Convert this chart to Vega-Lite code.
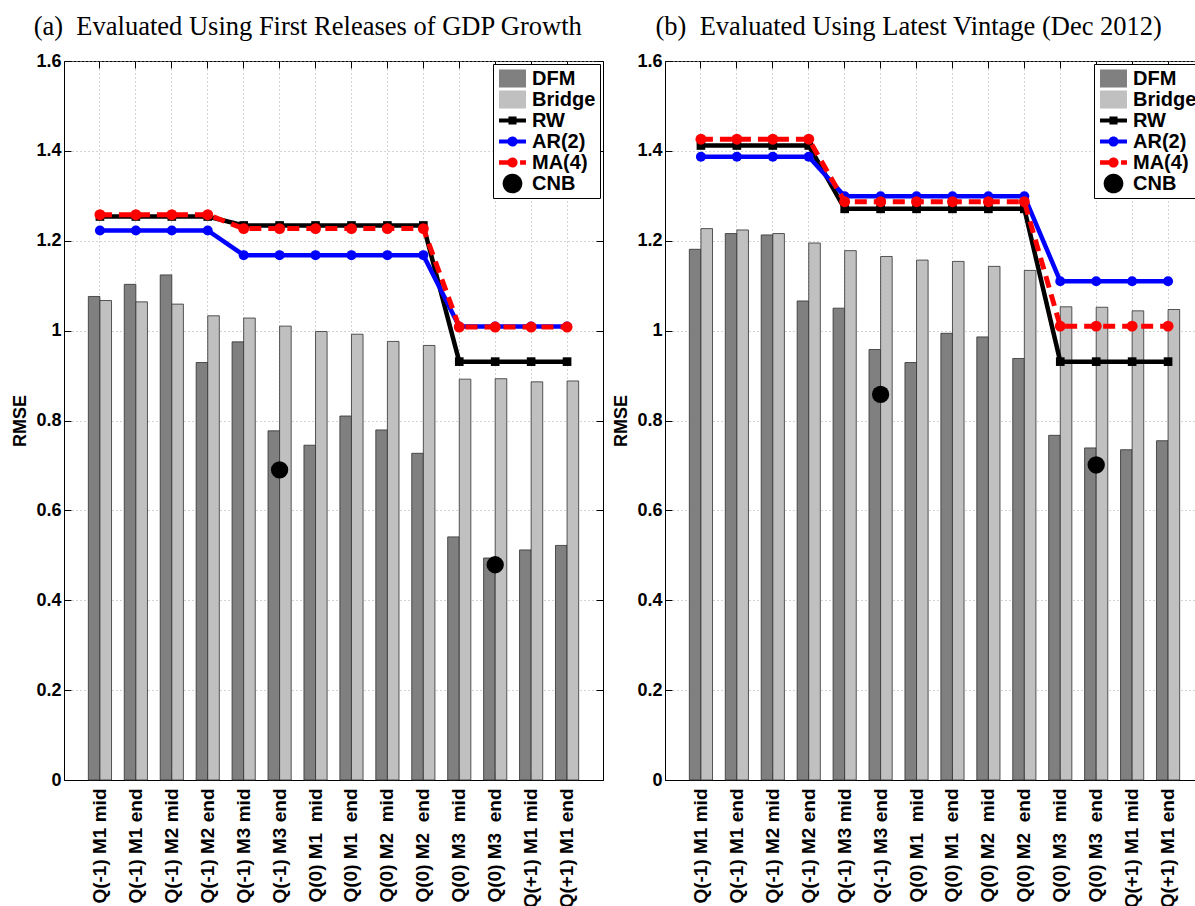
{
  "$schema": "https://vega.github.io/schema/vega-lite/v6.json",
  "padding": {"left": 11, "top": 13, "right": 0, "bottom": 0},
  "background": "white",
  "config": {
    "view": {"stroke": "black", "strokeWidth": 1},
    "font": "Liberation Sans",
    "title": {"font": "Liberation Serif", "fontSize": 26.5, "fontWeight": "normal", "color": "black", "anchor": "middle", "frame": "bounds", "offset": 12},
    "axis": {"labelFont": "Liberation Sans", "labelFontWeight": "bold", "labelFontSize": 18, "labelColor": "black", "titleFont": "Liberation Sans", "titleFontWeight": "bold", "titleFontSize": 18, "titleColor": "black", "domainColor": "black", "tickColor": "black", "gridColor": "#a8a8a8", "gridDash": [1, 3], "gridWidth": 1},
    "legend": {"labelFont": "Liberation Sans", "labelFontWeight": "bold", "labelFontSize": 20, "labelColor": "black", "strokeColor": "black", "fillColor": "white", "padding": 4, "rowPadding": 0, "labelOffset": 9, "symbolOffset": 5, "offset": 3, "symbolSize": 430, "symbolOpacity": 1, "symbolStrokeWidth": 0}
  },
  "datasets": {
    "a": [
      {"cat": "Q(-1) M1 mid", "series": "DFM", "value": 1.076},
      {"cat": "Q(-1) M1 mid", "series": "Bridge", "value": 1.067},
      {"cat": "Q(-1) M1 mid", "series": "RW", "value": 1.254},
      {"cat": "Q(-1) M1 mid", "series": "AR(2)", "value": 1.223},
      {"cat": "Q(-1) M1 mid", "series": "MA(4)", "value": 1.258},
      {"cat": "Q(-1) M1 end", "series": "DFM", "value": 1.103},
      {"cat": "Q(-1) M1 end", "series": "Bridge", "value": 1.064},
      {"cat": "Q(-1) M1 end", "series": "RW", "value": 1.254},
      {"cat": "Q(-1) M1 end", "series": "AR(2)", "value": 1.223},
      {"cat": "Q(-1) M1 end", "series": "MA(4)", "value": 1.258},
      {"cat": "Q(-1) M2 mid", "series": "DFM", "value": 1.124},
      {"cat": "Q(-1) M2 mid", "series": "Bridge", "value": 1.059},
      {"cat": "Q(-1) M2 mid", "series": "RW", "value": 1.254},
      {"cat": "Q(-1) M2 mid", "series": "AR(2)", "value": 1.223},
      {"cat": "Q(-1) M2 mid", "series": "MA(4)", "value": 1.258},
      {"cat": "Q(-1) M2 end", "series": "DFM", "value": 0.929},
      {"cat": "Q(-1) M2 end", "series": "Bridge", "value": 1.033},
      {"cat": "Q(-1) M2 end", "series": "RW", "value": 1.254},
      {"cat": "Q(-1) M2 end", "series": "AR(2)", "value": 1.223},
      {"cat": "Q(-1) M2 end", "series": "MA(4)", "value": 1.258},
      {"cat": "Q(-1) M3 mid", "series": "DFM", "value": 0.975},
      {"cat": "Q(-1) M3 mid", "series": "Bridge", "value": 1.028},
      {"cat": "Q(-1) M3 mid", "series": "RW", "value": 1.234},
      {"cat": "Q(-1) M3 mid", "series": "AR(2)", "value": 1.168},
      {"cat": "Q(-1) M3 mid", "series": "MA(4)", "value": 1.227},
      {"cat": "Q(-1) M3 end", "series": "DFM", "value": 0.777},
      {"cat": "Q(-1) M3 end", "series": "Bridge", "value": 1.010},
      {"cat": "Q(-1) M3 end", "series": "RW", "value": 1.234},
      {"cat": "Q(-1) M3 end", "series": "AR(2)", "value": 1.168},
      {"cat": "Q(-1) M3 end", "series": "MA(4)", "value": 1.227},
      {"cat": "Q(-1) M3 end", "series": "CNB", "value": 0.690},
      {"cat": "Q(0) M1\u00a0 mid", "series": "DFM", "value": 0.745},
      {"cat": "Q(0) M1\u00a0 mid", "series": "Bridge", "value": 0.998},
      {"cat": "Q(0) M1\u00a0 mid", "series": "RW", "value": 1.234},
      {"cat": "Q(0) M1\u00a0 mid", "series": "AR(2)", "value": 1.168},
      {"cat": "Q(0) M1\u00a0 mid", "series": "MA(4)", "value": 1.227},
      {"cat": "Q(0) M1\u00a0 end", "series": "DFM", "value": 0.810},
      {"cat": "Q(0) M1\u00a0 end", "series": "Bridge", "value": 0.992},
      {"cat": "Q(0) M1\u00a0 end", "series": "RW", "value": 1.234},
      {"cat": "Q(0) M1\u00a0 end", "series": "AR(2)", "value": 1.168},
      {"cat": "Q(0) M1\u00a0 end", "series": "MA(4)", "value": 1.227},
      {"cat": "Q(0) M2\u00a0 mid", "series": "DFM", "value": 0.779},
      {"cat": "Q(0) M2\u00a0 mid", "series": "Bridge", "value": 0.976},
      {"cat": "Q(0) M2\u00a0 mid", "series": "RW", "value": 1.234},
      {"cat": "Q(0) M2\u00a0 mid", "series": "AR(2)", "value": 1.168},
      {"cat": "Q(0) M2\u00a0 mid", "series": "MA(4)", "value": 1.227},
      {"cat": "Q(0) M2\u00a0 end", "series": "DFM", "value": 0.727},
      {"cat": "Q(0) M2\u00a0 end", "series": "Bridge", "value": 0.967},
      {"cat": "Q(0) M2\u00a0 end", "series": "RW", "value": 1.234},
      {"cat": "Q(0) M2\u00a0 end", "series": "AR(2)", "value": 1.168},
      {"cat": "Q(0) M2\u00a0 end", "series": "MA(4)", "value": 1.227},
      {"cat": "Q(0) M3\u00a0 mid", "series": "DFM", "value": 0.541},
      {"cat": "Q(0) M3\u00a0 mid", "series": "Bridge", "value": 0.892},
      {"cat": "Q(0) M3\u00a0 mid", "series": "RW", "value": 0.931},
      {"cat": "Q(0) M3\u00a0 mid", "series": "AR(2)", "value": 1.009},
      {"cat": "Q(0) M3\u00a0 mid", "series": "MA(4)", "value": 1.008},
      {"cat": "Q(0) M3\u00a0 end", "series": "DFM", "value": 0.494},
      {"cat": "Q(0) M3\u00a0 end", "series": "Bridge", "value": 0.893},
      {"cat": "Q(0) M3\u00a0 end", "series": "RW", "value": 0.931},
      {"cat": "Q(0) M3\u00a0 end", "series": "AR(2)", "value": 1.009},
      {"cat": "Q(0) M3\u00a0 end", "series": "MA(4)", "value": 1.008},
      {"cat": "Q(0) M3\u00a0 end", "series": "CNB", "value": 0.479},
      {"cat": "Q(+1) M1 mid", "series": "DFM", "value": 0.512},
      {"cat": "Q(+1) M1 mid", "series": "Bridge", "value": 0.886},
      {"cat": "Q(+1) M1 mid", "series": "RW", "value": 0.931},
      {"cat": "Q(+1) M1 mid", "series": "AR(2)", "value": 1.009},
      {"cat": "Q(+1) M1 mid", "series": "MA(4)", "value": 1.008},
      {"cat": "Q(+1) M1 end", "series": "DFM", "value": 0.522},
      {"cat": "Q(+1) M1 end", "series": "Bridge", "value": 0.888},
      {"cat": "Q(+1) M1 end", "series": "RW", "value": 0.931},
      {"cat": "Q(+1) M1 end", "series": "AR(2)", "value": 1.009},
      {"cat": "Q(+1) M1 end", "series": "MA(4)", "value": 1.008}
    ],
    "b": [
      {"cat": "Q(-1) M1 mid", "series": "DFM", "value": 1.181},
      {"cat": "Q(-1) M1 mid", "series": "Bridge", "value": 1.227},
      {"cat": "Q(-1) M1 mid", "series": "RW", "value": 1.412},
      {"cat": "Q(-1) M1 mid", "series": "AR(2)", "value": 1.387},
      {"cat": "Q(-1) M1 mid", "series": "MA(4)", "value": 1.426},
      {"cat": "Q(-1) M1 end", "series": "DFM", "value": 1.216},
      {"cat": "Q(-1) M1 end", "series": "Bridge", "value": 1.224},
      {"cat": "Q(-1) M1 end", "series": "RW", "value": 1.412},
      {"cat": "Q(-1) M1 end", "series": "AR(2)", "value": 1.387},
      {"cat": "Q(-1) M1 end", "series": "MA(4)", "value": 1.426},
      {"cat": "Q(-1) M2 mid", "series": "DFM", "value": 1.213},
      {"cat": "Q(-1) M2 mid", "series": "Bridge", "value": 1.216},
      {"cat": "Q(-1) M2 mid", "series": "RW", "value": 1.412},
      {"cat": "Q(-1) M2 mid", "series": "AR(2)", "value": 1.387},
      {"cat": "Q(-1) M2 mid", "series": "MA(4)", "value": 1.426},
      {"cat": "Q(-1) M2 end", "series": "DFM", "value": 1.066},
      {"cat": "Q(-1) M2 end", "series": "Bridge", "value": 1.195},
      {"cat": "Q(-1) M2 end", "series": "RW", "value": 1.412},
      {"cat": "Q(-1) M2 end", "series": "AR(2)", "value": 1.387},
      {"cat": "Q(-1) M2 end", "series": "MA(4)", "value": 1.426},
      {"cat": "Q(-1) M3 mid", "series": "DFM", "value": 1.050},
      {"cat": "Q(-1) M3 mid", "series": "Bridge", "value": 1.178},
      {"cat": "Q(-1) M3 mid", "series": "RW", "value": 1.271},
      {"cat": "Q(-1) M3 mid", "series": "AR(2)", "value": 1.299},
      {"cat": "Q(-1) M3 mid", "series": "MA(4)", "value": 1.287},
      {"cat": "Q(-1) M3 end", "series": "DFM", "value": 0.958},
      {"cat": "Q(-1) M3 end", "series": "Bridge", "value": 1.165},
      {"cat": "Q(-1) M3 end", "series": "RW", "value": 1.271},
      {"cat": "Q(-1) M3 end", "series": "AR(2)", "value": 1.299},
      {"cat": "Q(-1) M3 end", "series": "MA(4)", "value": 1.287},
      {"cat": "Q(-1) M3 end", "series": "CNB", "value": 0.858},
      {"cat": "Q(0) M1\u00a0 mid", "series": "DFM", "value": 0.929},
      {"cat": "Q(0) M1\u00a0 mid", "series": "Bridge", "value": 1.157},
      {"cat": "Q(0) M1\u00a0 mid", "series": "RW", "value": 1.271},
      {"cat": "Q(0) M1\u00a0 mid", "series": "AR(2)", "value": 1.299},
      {"cat": "Q(0) M1\u00a0 mid", "series": "MA(4)", "value": 1.287},
      {"cat": "Q(0) M1\u00a0 end", "series": "DFM", "value": 0.994},
      {"cat": "Q(0) M1\u00a0 end", "series": "Bridge", "value": 1.154},
      {"cat": "Q(0) M1\u00a0 end", "series": "RW", "value": 1.271},
      {"cat": "Q(0) M1\u00a0 end", "series": "AR(2)", "value": 1.299},
      {"cat": "Q(0) M1\u00a0 end", "series": "MA(4)", "value": 1.287},
      {"cat": "Q(0) M2\u00a0 mid", "series": "DFM", "value": 0.986},
      {"cat": "Q(0) M2\u00a0 mid", "series": "Bridge", "value": 1.143},
      {"cat": "Q(0) M2\u00a0 mid", "series": "RW", "value": 1.271},
      {"cat": "Q(0) M2\u00a0 mid", "series": "AR(2)", "value": 1.299},
      {"cat": "Q(0) M2\u00a0 mid", "series": "MA(4)", "value": 1.287},
      {"cat": "Q(0) M2\u00a0 end", "series": "DFM", "value": 0.938},
      {"cat": "Q(0) M2\u00a0 end", "series": "Bridge", "value": 1.134},
      {"cat": "Q(0) M2\u00a0 end", "series": "RW", "value": 1.271},
      {"cat": "Q(0) M2\u00a0 end", "series": "AR(2)", "value": 1.299},
      {"cat": "Q(0) M2\u00a0 end", "series": "MA(4)", "value": 1.287},
      {"cat": "Q(0) M3\u00a0 mid", "series": "DFM", "value": 0.767},
      {"cat": "Q(0) M3\u00a0 mid", "series": "Bridge", "value": 1.053},
      {"cat": "Q(0) M3\u00a0 mid", "series": "RW", "value": 0.931},
      {"cat": "Q(0) M3\u00a0 mid", "series": "AR(2)", "value": 1.110},
      {"cat": "Q(0) M3\u00a0 mid", "series": "MA(4)", "value": 1.010},
      {"cat": "Q(0) M3\u00a0 end", "series": "DFM", "value": 0.739},
      {"cat": "Q(0) M3\u00a0 end", "series": "Bridge", "value": 1.052},
      {"cat": "Q(0) M3\u00a0 end", "series": "RW", "value": 0.931},
      {"cat": "Q(0) M3\u00a0 end", "series": "AR(2)", "value": 1.110},
      {"cat": "Q(0) M3\u00a0 end", "series": "MA(4)", "value": 1.010},
      {"cat": "Q(0) M3\u00a0 end", "series": "CNB", "value": 0.701},
      {"cat": "Q(+1) M1 mid", "series": "DFM", "value": 0.735},
      {"cat": "Q(+1) M1 mid", "series": "Bridge", "value": 1.044},
      {"cat": "Q(+1) M1 mid", "series": "RW", "value": 0.931},
      {"cat": "Q(+1) M1 mid", "series": "AR(2)", "value": 1.110},
      {"cat": "Q(+1) M1 mid", "series": "MA(4)", "value": 1.010},
      {"cat": "Q(+1) M1 end", "series": "DFM", "value": 0.755},
      {"cat": "Q(+1) M1 end", "series": "Bridge", "value": 1.047},
      {"cat": "Q(+1) M1 end", "series": "RW", "value": 0.931},
      {"cat": "Q(+1) M1 end", "series": "AR(2)", "value": 1.110},
      {"cat": "Q(+1) M1 end", "series": "MA(4)", "value": 1.010}
    ]
  },
  "spacing": 8,
  "resolve": {"scale": {"color": "independent", "shape": "independent"}, "legend": {"color": "independent", "shape": "independent"}},
  "hconcat": [
    {
      "width": 539, "height": 719,
      "title": "(a)\u00a0 Evaluated Using First Releases of GDP Growth",
      "data": {"name": "a"},
      "resolve": {"axis": {"x": "independent", "y": "independent"}},
      "layer": [
        {
          "transform": [{"filter": {"field": "series", "oneOf": ["DFM", "Bridge"]}}],
          "mark": {"type": "bar", "stroke": "#303030", "strokeWidth": 0.8},
          "encoding": {
            "x": {"field": "cat", "type": "nominal", "sort": null, "scale": {"paddingInner": 0, "paddingOuter": 0.5},
              "axis": {"title": null, "labelAngle": 270, "labelPadding": 15, "labelFontSize": 19, "tickSize": -7, "bandPosition": 0.5, "tickExtra": false, "grid": true, "domain": true}},
            "xOffset": {"field": "series", "type": "nominal", "scale": {"domain": ["DFM", "Bridge"], "paddingInner": 0, "paddingOuter": 0.55}},
            "y": {"field": "value", "type": "quantitative", "scale": {"domain": [0, 1.6], "nice": false, "zero": true},
              "axis": {"title": "RMSE", "values": [0, 0.2, 0.4, 0.6, 0.8, 1, 1.2, 1.4, 1.6], "format": ".1~f", "tickSize": -7, "labelPadding": 10, "titlePadding": 6, "grid": true}},
            "color": {"field": "series", "type": "nominal",
              "scale": {"domain": ["DFM", "Bridge", "RW", "AR(2)", "MA(4)", "CNB"], "range": ["#808080", "#c0c0c0", "#000000", "#0000ff", "#ff0000", "#000000"]},
              "legend": {"title": null, "orient": "top-right", "symbolOpacity": 1, "symbolStrokeWidth": 0}}
          }
        },
        {
          "mark": {"type": "point", "filled": true, "opacity": 0},
          "encoding": {
            "x": {"field": "cat", "type": "nominal", "sort": null, "axis": null},
            "y": {"field": "value", "type": "quantitative", "axis": null},
            "color": {"field": "series", "type": "nominal"},
            "shape": {"field": "series", "type": "nominal",
              "scale": {"domain": ["DFM", "Bridge", "RW", "AR(2)", "MA(4)", "CNB"],
                "range": ["M-1.3,-0.87H1.3V0.87H-1.3Z", "M-1.3,-0.87H1.3V0.87H-1.3Z", "M-1.3,-0.2H1.3V0.2H-1.3Z M-0.39,-0.39H0.39V0.39H-0.39Z", "M-1.3,-0.2H1.3V0.2H-1.3Z M-0.49,0A0.49,0.49 0 1,1 0.49,0A0.49,0.49 0 1,1 -0.49,0Z", "M-1.3,-0.21H0.43V0.21H-1.3Z M0.73,-0.21H1.3V0.21H0.73Z M-0.49,0A0.49,0.49 0 1,1 0.49,0A0.49,0.49 0 1,1 -0.49,0Z", "M-0.95,0A0.95,0.95 0 1,1 0.95,0A0.95,0.95 0 1,1 -0.95,0Z"]},
              "legend": {"title": null, "orient": "top-right", "symbolOpacity": 1, "symbolStrokeWidth": 0}}
          }
        },
        {
          "transform": [{"filter": {"field": "series", "equal": "RW"}}],
          "mark": {"type": "line", "strokeWidth": 4.5},
          "encoding": {
            "x": {"field": "cat", "type": "nominal", "sort": null, "axis": {"orient": "top", "labels": false, "title": null, "tickSize": -7, "bandPosition": 0.5, "tickExtra": false, "grid": false, "domain": false}},
            "y": {"field": "value", "type": "quantitative", "axis": {"orient": "right", "labels": false, "title": null, "values": [0, 0.2, 0.4, 0.6, 0.8, 1, 1.2, 1.4, 1.6], "tickSize": -7, "grid": false, "domain": false}},
            "color": {"field": "series", "type": "nominal", "legend": null}
          }
        },
        {
          "transform": [{"filter": {"field": "series", "equal": "RW"}}],
          "mark": {"type": "point", "filled": true, "shape": "square", "size": 75, "opacity": 1},
          "encoding": {
            "x": {"field": "cat", "type": "nominal", "sort": null, "axis": null},
            "y": {"field": "value", "type": "quantitative", "axis": null},
            "color": {"field": "series", "type": "nominal", "legend": null}
          }
        },
        {
          "transform": [{"filter": {"field": "series", "equal": "AR(2)"}}],
          "mark": {"type": "line", "strokeWidth": 4.5},
          "encoding": {
            "x": {"field": "cat", "type": "nominal", "sort": null, "axis": null},
            "y": {"field": "value", "type": "quantitative", "axis": null},
            "color": {"field": "series", "type": "nominal", "legend": null}
          }
        },
        {
          "transform": [{"filter": {"field": "series", "equal": "AR(2)"}}],
          "mark": {"type": "point", "filled": true, "shape": "circle", "size": 100, "opacity": 1},
          "encoding": {
            "x": {"field": "cat", "type": "nominal", "sort": null, "axis": null},
            "y": {"field": "value", "type": "quantitative", "axis": null},
            "color": {"field": "series", "type": "nominal", "legend": null}
          }
        },
        {
          "transform": [{"filter": {"field": "series", "equal": "MA(4)"}}],
          "mark": {"type": "line", "strokeWidth": 5, "strokeDash": [12, 7]},
          "encoding": {
            "x": {"field": "cat", "type": "nominal", "sort": null, "axis": null},
            "y": {"field": "value", "type": "quantitative", "axis": null},
            "color": {"field": "series", "type": "nominal", "legend": null}
          }
        },
        {
          "transform": [{"filter": {"field": "series", "equal": "MA(4)"}}],
          "mark": {"type": "point", "filled": true, "shape": "circle", "size": 120, "opacity": 1},
          "encoding": {
            "x": {"field": "cat", "type": "nominal", "sort": null, "axis": null},
            "y": {"field": "value", "type": "quantitative", "axis": null},
            "color": {"field": "series", "type": "nominal", "legend": null}
          }
        },
        {
          "transform": [{"filter": {"field": "series", "equal": "CNB"}}],
          "mark": {"type": "point", "filled": true, "shape": "circle", "size": 300, "opacity": 1},
          "encoding": {
            "x": {"field": "cat", "type": "nominal", "sort": null, "axis": null},
            "y": {"field": "value", "type": "quantitative", "axis": null},
            "color": {"field": "series", "type": "nominal", "legend": null}
          }
        }
      ]
    },
    {
      "width": 539, "height": 719,
      "title": "(b)\u00a0 Evaluated Using Latest Vintage (Dec 2012)",
      "data": {"name": "b"},
      "resolve": {"axis": {"x": "independent", "y": "independent"}},
      "layer": [
        {
          "transform": [{"filter": {"field": "series", "oneOf": ["DFM", "Bridge"]}}],
          "mark": {"type": "bar", "stroke": "#303030", "strokeWidth": 0.8},
          "encoding": {
            "x": {"field": "cat", "type": "nominal", "sort": null, "scale": {"paddingInner": 0, "paddingOuter": 0.5},
              "axis": {"title": null, "labelAngle": 270, "labelPadding": 15, "labelFontSize": 19, "tickSize": -7, "bandPosition": 0.5, "tickExtra": false, "grid": true, "domain": true}},
            "xOffset": {"field": "series", "type": "nominal", "scale": {"domain": ["DFM", "Bridge"], "paddingInner": 0, "paddingOuter": 0.55}},
            "y": {"field": "value", "type": "quantitative", "scale": {"domain": [0, 1.6], "nice": false, "zero": true},
              "axis": {"title": "RMSE", "values": [0, 0.2, 0.4, 0.6, 0.8, 1, 1.2, 1.4, 1.6], "format": ".1~f", "tickSize": -7, "labelPadding": 10, "titlePadding": 6, "grid": true}},
            "color": {"field": "series", "type": "nominal",
              "scale": {"domain": ["DFM", "Bridge", "RW", "AR(2)", "MA(4)", "CNB"], "range": ["#808080", "#c0c0c0", "#000000", "#0000ff", "#ff0000", "#000000"]},
              "legend": {"title": null, "orient": "top-right", "symbolOpacity": 1, "symbolStrokeWidth": 0}}
          }
        },
        {
          "mark": {"type": "point", "filled": true, "opacity": 0},
          "encoding": {
            "x": {"field": "cat", "type": "nominal", "sort": null, "axis": null},
            "y": {"field": "value", "type": "quantitative", "axis": null},
            "color": {"field": "series", "type": "nominal"},
            "shape": {"field": "series", "type": "nominal",
              "scale": {"domain": ["DFM", "Bridge", "RW", "AR(2)", "MA(4)", "CNB"],
                "range": ["M-1.3,-0.87H1.3V0.87H-1.3Z", "M-1.3,-0.87H1.3V0.87H-1.3Z", "M-1.3,-0.2H1.3V0.2H-1.3Z M-0.39,-0.39H0.39V0.39H-0.39Z", "M-1.3,-0.2H1.3V0.2H-1.3Z M-0.49,0A0.49,0.49 0 1,1 0.49,0A0.49,0.49 0 1,1 -0.49,0Z", "M-1.3,-0.21H0.43V0.21H-1.3Z M0.73,-0.21H1.3V0.21H0.73Z M-0.49,0A0.49,0.49 0 1,1 0.49,0A0.49,0.49 0 1,1 -0.49,0Z", "M-0.95,0A0.95,0.95 0 1,1 0.95,0A0.95,0.95 0 1,1 -0.95,0Z"]},
              "legend": {"title": null, "orient": "top-right", "symbolOpacity": 1, "symbolStrokeWidth": 0}}
          }
        },
        {
          "transform": [{"filter": {"field": "series", "equal": "RW"}}],
          "mark": {"type": "line", "strokeWidth": 4.5},
          "encoding": {
            "x": {"field": "cat", "type": "nominal", "sort": null, "axis": {"orient": "top", "labels": false, "title": null, "tickSize": -7, "bandPosition": 0.5, "tickExtra": false, "grid": false, "domain": false}},
            "y": {"field": "value", "type": "quantitative", "axis": {"orient": "right", "labels": false, "title": null, "values": [0, 0.2, 0.4, 0.6, 0.8, 1, 1.2, 1.4, 1.6], "tickSize": -7, "grid": false, "domain": false}},
            "color": {"field": "series", "type": "nominal", "legend": null}
          }
        },
        {
          "transform": [{"filter": {"field": "series", "equal": "RW"}}],
          "mark": {"type": "point", "filled": true, "shape": "square", "size": 75, "opacity": 1},
          "encoding": {
            "x": {"field": "cat", "type": "nominal", "sort": null, "axis": null},
            "y": {"field": "value", "type": "quantitative", "axis": null},
            "color": {"field": "series", "type": "nominal", "legend": null}
          }
        },
        {
          "transform": [{"filter": {"field": "series", "equal": "AR(2)"}}],
          "mark": {"type": "line", "strokeWidth": 4.5},
          "encoding": {
            "x": {"field": "cat", "type": "nominal", "sort": null, "axis": null},
            "y": {"field": "value", "type": "quantitative", "axis": null},
            "color": {"field": "series", "type": "nominal", "legend": null}
          }
        },
        {
          "transform": [{"filter": {"field": "series", "equal": "AR(2)"}}],
          "mark": {"type": "point", "filled": true, "shape": "circle", "size": 100, "opacity": 1},
          "encoding": {
            "x": {"field": "cat", "type": "nominal", "sort": null, "axis": null},
            "y": {"field": "value", "type": "quantitative", "axis": null},
            "color": {"field": "series", "type": "nominal", "legend": null}
          }
        },
        {
          "transform": [{"filter": {"field": "series", "equal": "MA(4)"}}],
          "mark": {"type": "line", "strokeWidth": 5, "strokeDash": [12, 7]},
          "encoding": {
            "x": {"field": "cat", "type": "nominal", "sort": null, "axis": null},
            "y": {"field": "value", "type": "quantitative", "axis": null},
            "color": {"field": "series", "type": "nominal", "legend": null}
          }
        },
        {
          "transform": [{"filter": {"field": "series", "equal": "MA(4)"}}],
          "mark": {"type": "point", "filled": true, "shape": "circle", "size": 120, "opacity": 1},
          "encoding": {
            "x": {"field": "cat", "type": "nominal", "sort": null, "axis": null},
            "y": {"field": "value", "type": "quantitative", "axis": null},
            "color": {"field": "series", "type": "nominal", "legend": null}
          }
        },
        {
          "transform": [{"filter": {"field": "series", "equal": "CNB"}}],
          "mark": {"type": "point", "filled": true, "shape": "circle", "size": 300, "opacity": 1},
          "encoding": {
            "x": {"field": "cat", "type": "nominal", "sort": null, "axis": null},
            "y": {"field": "value", "type": "quantitative", "axis": null},
            "color": {"field": "series", "type": "nominal", "legend": null}
          }
        }
      ]
    }
  ]
}
